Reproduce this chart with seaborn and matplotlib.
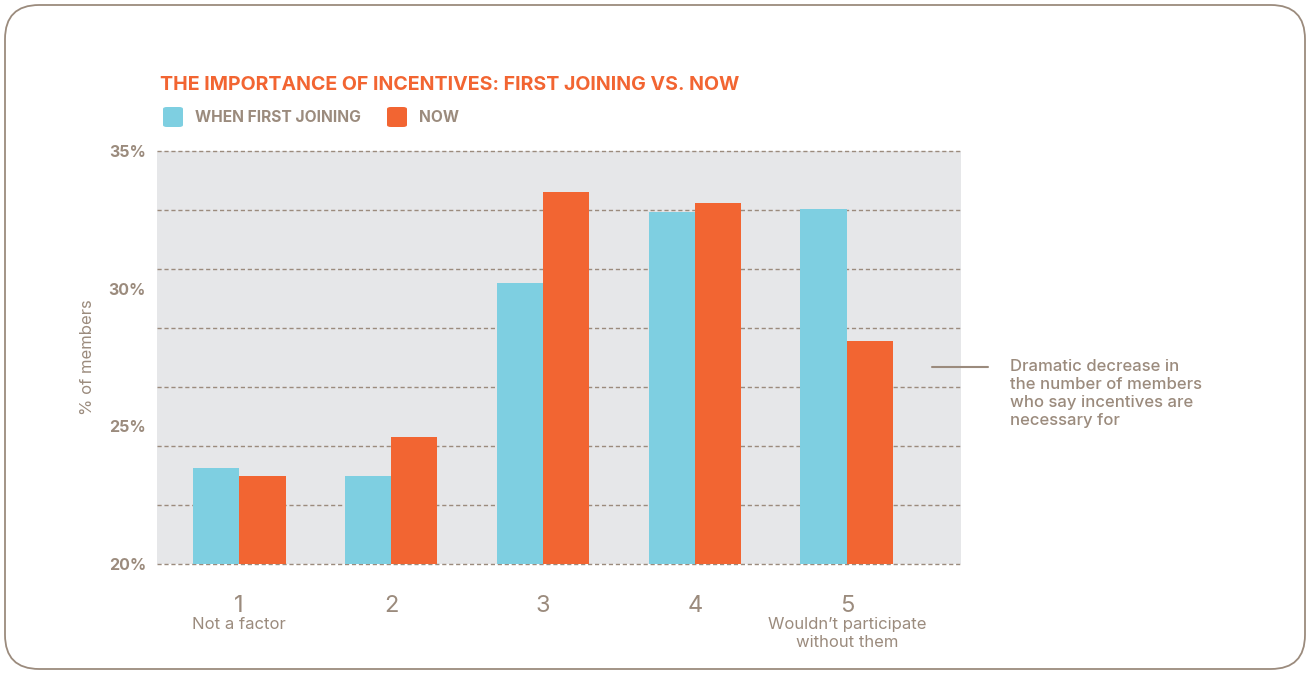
import matplotlib
matplotlib.use("Agg")
import matplotlib.pyplot as plt
import matplotlib.transforms as mtransforms
from matplotlib.patches import FancyBboxPatch
import seaborn as sns
import pandas as pd
import numpy as np

# ---- data ----
categories = ["1", "2", "3", "4", "5"]
sublabels = ["Not a factor", "", "", "", "Wouldn\u2019t participate\nwithout them"]
first_joining = [23.5, 23.2, 30.2, 32.8, 32.9]
now = [23.2, 24.6, 33.5, 33.1, 28.1]
series_names = ["WHEN FIRST JOINING", "NOW"]
ytick_values = [20, 25, 30, 35]
ytick_labels = ["20%", "25%", "30%", "35%"]
title = "THE IMPORTANCE OF INCENTIVES: FIRST JOINING VS. NOW"
ylabel = "% of members"
note = "Dramatic decrease in\nthe number of members\nwho say incentives are\nnecessary for"

BLUE = "#7ECFE1"
ORANGE = "#F26532"
GREY = "#9B8B7D"
PANEL = "#E6E7E9"

df = pd.DataFrame({
    "cat": categories * 2,
    "val": first_joining + now,
    "series": [series_names[0]] * 5 + [series_names[1]] * 5,
})

sns.set_theme(style="white")
plt.rcParams["font.family"] = ["Inter", "DejaVu Sans"]

fig = plt.figure(figsize=(13.13, 6.74), dpi=100)
ax = fig.add_axes([0.1196, 0.1632, 0.6123, 0.6128])
ax.set_facecolor(PANEL)

sns.barplot(data=df, x="cat", y="val", hue="series", order=categories,
            hue_order=series_names, palette=[BLUE, ORANGE], width=0.61,
            saturation=1, ax=ax, legend=False, zorder=3, linewidth=0)

ax.set_ylim(20, 35)
ax.set_xlim(-0.541, 4.752)

# gridlines: 7 equal divisions
grid_levels = [20 + k * 15 / 7 for k in range(8)]
for g in grid_levels:
    ax.axhline(g, linestyle=(0, (3, 2)), color=GREY, linewidth=1.0,
               zorder=1, clip_on=False)
ax.set_yticks(ytick_values)
ax.set_yticklabels(ytick_labels)
ax.grid(False)
for s in ax.spines.values():
    s.set_visible(False)
ax.tick_params(axis="y", which="both", length=0, pad=8, labelsize=11.5, labelcolor=GREY)
for t in ax.get_yticklabels():
    t.set_fontweight("bold")
ax.set_xticks(range(len(categories)))
ax.set_xticklabels([])
ax.tick_params(axis="x", length=0)
ax.set_xlabel("")
ax.set_ylabel(ylabel, color=GREY, fontsize=12, labelpad=10)

# x category labels
trans = mtransforms.blended_transform_factory(ax.transData, fig.transFigure)
for i, (c, s) in enumerate(zip(categories, sublabels)):
    ax.text(i, 1 - 606 / 674, c, transform=trans, ha="center", va="center",
            fontsize=17, color=GREY)
    if s:
        ax.text(i, 1 - 617 / 674, s, transform=trans, ha="center", va="top",
                fontsize=12, color=GREY, linespacing=1.25)

# title and legend
fig.text(160 / 1313, 1 - 85 / 674, title, ha="left", va="center",
         fontsize=14.1, fontweight="bold", color=ORANGE)
for xs, col, name in [(163, BLUE, series_names[0]), (387, ORANGE, series_names[1])]:
    fig.patches.append(FancyBboxPatch((xs / 1313, 1 - 127 / 674), 20 / 1313, 20 / 674,
                                      boxstyle="round,pad=0,rounding_size=0.003",
                                      transform=fig.transFigure, facecolor=col,
                                      edgecolor="none"))
    fig.text((xs + 32) / 1313, 1 - 117 / 674, name, ha="left", va="center",
             fontsize=11.2, fontweight="bold", color=GREY)

# annotation
fig.add_artist(plt.Line2D([932 / 1313, 988 / 1313], [1 - 367 / 674, 1 - 367 / 674],
                          color=GREY, linewidth=1.5, transform=fig.transFigure))
fig.text(1010 / 1313, 1 - 359 / 674, note, ha="left", va="top",
         fontsize=12, fontweight="medium", color=GREY, linespacing=1.25)

# rounded border
fig.patches.append(FancyBboxPatch((5 / 1313, 5 / 674), 1300 / 1313, 664 / 674,
                                  boxstyle="round,pad=0,rounding_size=0.026",
                                  mutation_aspect=1313 / 674,
                                  transform=fig.transFigure, facecolor="none",
                                  edgecolor=GREY, linewidth=1.3))

fig.savefig("out.png", dpi=100, facecolor="white")
